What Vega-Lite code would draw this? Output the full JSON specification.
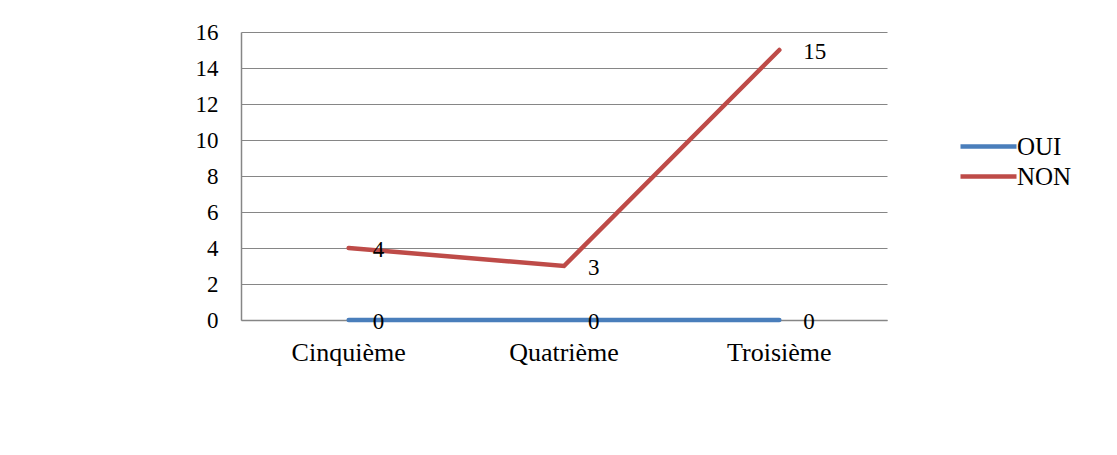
{
  "$schema": "https://vega.github.io/schema/vega-lite/v6.json",
  "autosize": "none",
  "width": 646,
  "height": 288,
  "padding": {"left": 241, "top": 32, "right": 230, "bottom": 135},
  "background": "white",
  "config": {
    "font": "Liberation Serif, Times New Roman, serif",
    "view": {"stroke": null}
  },
  "data": {
    "values": [
      {"niveau": "Cinquième", "serie": "OUI", "valeur": 0},
      {"niveau": "Quatrième", "serie": "OUI", "valeur": 0},
      {"niveau": "Troisième", "serie": "OUI", "valeur": 0},
      {"niveau": "Cinquième", "serie": "NON", "valeur": 4},
      {"niveau": "Quatrième", "serie": "NON", "valeur": 3},
      {"niveau": "Troisième", "serie": "NON", "valeur": 15}
    ]
  },
  "encoding": {
    "x": {
      "field": "niveau", "type": "nominal", "sort": ["Cinquième", "Quatrième", "Troisième"],
      "scale": {"type": "band", "paddingInner": 0, "paddingOuter": 0},
      "axis": {"title": null, "labelAngle": 0, "labelFontSize": 26, "labelColor": "black", "labelFont": "Liberation Serif, Times New Roman, serif", "ticks": false, "domainColor": "#868686", "domainWidth": 1.5, "labelPadding": 19}
    },
    "y": {
      "field": "valeur", "type": "quantitative",
      "scale": {"domain": [0, 16]},
      "axis": {"title": null, "values": [0,2,4,6,8,10,12,14,16], "labelFontSize": 23, "labelColor": "black", "labelFont": "Liberation Serif, Times New Roman, serif", "ticks": false, "labelPadding": 23, "domainColor": "#868686", "domainWidth": 1.5, "gridColor": "#868686", "gridWidth": 1.2}
    }
  },
  "layer": [
    {
      "mark": {"type": "line", "strokeWidth": 4.5, "strokeCap": "round"},
      "encoding": {
        "color": {
          "field": "serie", "type": "nominal", "sort": ["OUI", "NON"],
          "scale": {"domain": ["OUI", "NON"], "range": ["#4A7EBB", "#BE4B48"]},
          "legend": {
            "title": null, "orient": "none", "legendX": 731, "legendY": 98,
            "symbolType": "M-2,0H2", "symbolSize": 784, "symbolStrokeWidth": 4.5, "symbolStrokeCap": "round",
            "labelFontSize": 25, "labelFont": "Liberation Serif, Times New Roman, serif", "labelColor": "black",
            "labelOffset": 12, "rowPadding": 0
          }
        },
        "order": {"field": "serie"}
      }
    },
    {
      "mark": {"type": "text", "align": "left", "baseline": "middle", "dx": 24, "dy": 2, "fontSize": 23, "font": "Liberation Serif, Times New Roman, serif", "color": "black"},
      "encoding": {
        "text": {"field": "valeur", "type": "quantitative"}
      }
    }
  ]
}
